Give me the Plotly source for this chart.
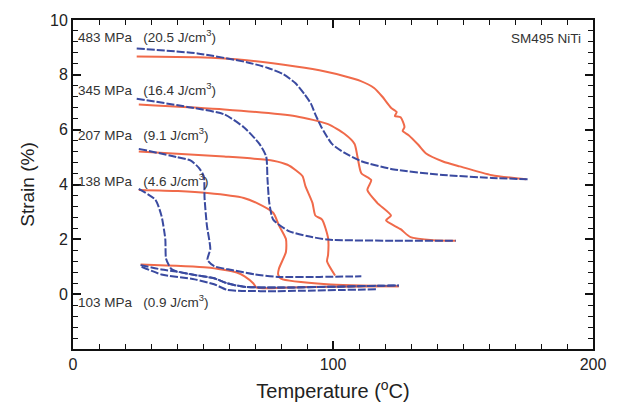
import plotly.graph_objects as go

# ---------------- data (Temperature in °C, Strain in %) ----------------
# 483 MPa
t483_cool = [24.5, 47.9, 66.8, 75.0, 81.0, 85.5, 89.0, 91.5, 93.2, 95.5, 99.6, 104.5, 110.9, 123.4, 142.3, 161.1, 175.1]
s483_cool = [8.96, 8.78, 8.46, 8.25, 8.02, 7.70, 7.30, 6.95, 6.56, 6.10, 5.48, 5.15, 4.85, 4.55, 4.35, 4.24, 4.19]
t483_heat = [24.5, 47.9, 66.8, 85.7, 97.0, 104.5, 110.5, 115.8, 119.0, 122.3, 124.5, 123.8, 126.0, 127.5, 126.8, 129.1, 132.8, 135.8, 142.3, 148.7, 161.1, 174.3]
s483_heat = [8.67, 8.64, 8.53, 8.30, 8.12, 7.95, 7.78, 7.52, 7.20, 6.80, 6.64, 6.50, 6.45, 6.10, 5.95, 5.80, 5.45, 5.13, 4.84, 4.66, 4.34, 4.19]

# 345 MPa
t345_cool = [24.5, 45.3, 58.1, 65.7, 71.7, 74.3, 74.8, 75.5, 77.0, 83.0, 90.0, 98.1, 123.4, 147.2]
s345_cool = [7.13, 6.81, 6.56, 6.09, 5.48, 5.02, 4.20, 3.33, 2.72, 2.30, 2.12, 1.99, 1.95, 1.95]
t345_heat = [25.3, 58.1, 85.7, 98.1, 104.5, 108.3, 109.4, 110.9, 114.7, 113.2, 117.0, 122.3, 120.4, 126.0, 129.8, 138.5, 147.2]
s345_heat = [6.92, 6.74, 6.49, 6.20, 5.84, 5.48, 5.02, 4.41, 4.16, 3.80, 3.33, 2.87, 2.69, 2.37, 2.08, 1.97, 1.95]

# 207 MPa
t207_cool = [25.3, 40.0, 45.3, 48.5, 50.3, 50.6, 51.5, 52.8, 51.7, 54.3, 61.1, 70.0, 78.9, 95.0, 110.9]
s207_cool = [5.30, 5.00, 4.87, 4.60, 4.30, 3.50, 2.50, 1.65, 1.25, 1.02, 0.88, 0.72, 0.63, 0.63, 0.65]
t207_heat = [25.3, 58.1, 77.0, 82.5, 85.7, 88.3, 89.4, 92.1, 93.2, 95.8, 98.1, 98.1, 97.7, 100.8]
s207_heat = [5.20, 5.02, 4.87, 4.72, 4.52, 4.30, 3.94, 3.33, 2.87, 2.72, 2.05, 1.43, 1.20, 0.68]

# 138 MPa
t138_cool = [25.3, 31.7, 34.0, 35.5, 35.8, 37.7, 39.6, 46.8, 54.3, 59.2, 65.7, 78.1, 125.3]
s138_cool = [3.84, 3.44, 2.87, 2.01, 1.29, 0.93, 0.84, 0.70, 0.58, 0.40, 0.27, 0.24, 0.32]
t138_heat = [25.3, 40.4, 51.7, 65.7, 70.6, 77.0, 79.2, 81.9, 81.9, 79.2, 78.9, 80.0, 97.7, 125.3]
s138_heat = [3.80, 3.76, 3.69, 3.51, 3.33, 2.97, 2.51, 2.01, 1.54, 0.93, 0.72, 0.57, 0.36, 0.29]

# 103 MPa
t103_cool = [26.0, 34.0, 39.6, 46.8, 54.3, 59.2, 65.7, 78.1, 125.3]
s103_cool = [1.06, 0.90, 0.83, 0.70, 0.58, 0.40, 0.27, 0.24, 0.32]
t103_cool2 = [26.4, 34.0, 46.8, 54.3, 59.2, 65.0, 78.1, 117.0]
s103_cool2 = [1.00, 0.72, 0.54, 0.36, 0.16, 0.12, 0.11, 0.18]
t103_heat = [26.0, 51.7, 63.0, 66.0, 69.4, 70.6, 90.0, 125.3]
s103_heat = [1.08, 0.97, 0.79, 0.65, 0.39, 0.24, 0.26, 0.29]

labels = ["483 MPa", "345 MPa", "207 MPa", "138 MPa", "103 MPa"]
energies = ["20.5", "16.4", "9.1", "4.6", "0.9"]
label_y = [9.4, 7.5, 5.84, 4.16, -0.25]

RED = "#f06a4a"
BLUE = "#3a4aa0"

fig = go.Figure()

heat = [(t483_heat, s483_heat), (t345_heat, s345_heat), (t207_heat, s207_heat),
        (t138_heat, s138_heat), (t103_heat, s103_heat)]
cool = [(t483_cool, s483_cool), (t345_cool, s345_cool), (t207_cool, s207_cool),
        (t138_cool, s138_cool), (t103_cool, s103_cool), (t103_cool2, s103_cool2)]

for x, y in heat:
    fig.add_trace(go.Scatter(x=x, y=y, mode="lines",
                             line=dict(color=RED, width=2, shape="spline", smoothing=0.6),
                             showlegend=False))
for x, y in cool:
    fig.add_trace(go.Scatter(x=x, y=y, mode="lines",
                             line=dict(color=BLUE, width=2, dash="8px,2px", shape="spline", smoothing=0.6),
                             showlegend=False))

NB = "\u00a0"
for lab, en, yy in zip(labels, energies, label_y):
    fig.add_annotation(x=1, y=yy, xref="x", yref="y", xanchor="left", yanchor="middle",
                       text=f"{lab}{NB*3}({en} J/cm<sup>3</sup>)", showarrow=False,
                       font=dict(family="Liberation Sans, Arial", size=13.5, color="#333"))

fig.add_annotation(x=196, y=9.32, xref="x", yref="y", xanchor="right", yanchor="middle",
                   text="SM495 NiTi", showarrow=False,
                   font=dict(family="Liberation Sans, Arial", size=13.5, color="#333"))

axis_common = dict(showline=True, linecolor="#111", linewidth=2, mirror="ticks",
                   ticks="inside", tickcolor="#111", ticklen=8, tickwidth=1.5,
                   showgrid=False, zeroline=False,
                   tickfont=dict(family="Liberation Sans, Arial", size=16, color="#222"))

fig.update_xaxes(range=[0, 200], tickvals=[0, 100, 200],
                 minor=dict(dtick=10, tick0=0, ticks="inside", ticklen=5, tickwidth=1.2, tickcolor="#111"),
                 title=dict(text="Temperature (<sup>o</sup>C)", standoff=12,
                            font=dict(family="Liberation Sans, Arial", size=20, color="#222")),
                 **axis_common)
fig.update_yaxes(range=[-2, 10], tickvals=[0, 2, 4, 6, 8, 10],
                 minor=dict(dtick=0.4, tick0=0, ticks="inside", ticklen=5, tickwidth=1.2, tickcolor="#111"),
                 title=dict(text="Strain (%)", standoff=10,
                            font=dict(family="Liberation Sans, Arial", size=19, color="#222")),
                 **axis_common)

fig.update_layout(width=618, height=412, margin=dict(l=73, r=15, t=14, b=63),
                  paper_bgcolor="white", plot_bgcolor="white")

fig.write_html("out.html")
